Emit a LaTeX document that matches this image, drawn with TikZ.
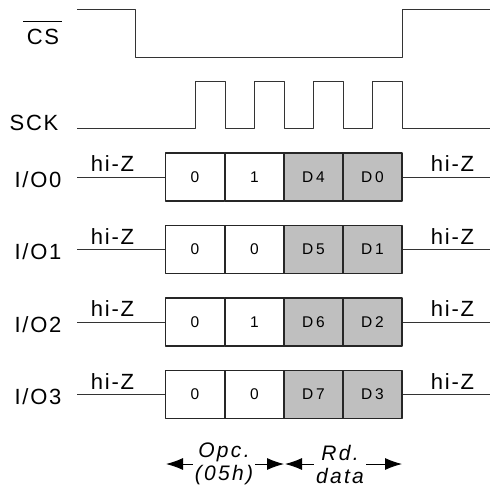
\documentclass[tikz,border=0pt]{standalone}
\usepackage{fontspec}
\setmainfont{Liberation Sans}[LetterSpace=8]
\usetikzlibrary{arrows.meta}
\tikzset{
  sig/.style = {line width=0.9pt, black!80},
  lbl/.style = {font=\fontsize{22}{22}\selectfont, inner sep=0pt, anchor=base},
  phase/.style = {font=\fontsize{21}{23}\selectfont\itshape\addfontfeatures{LetterSpace=11},
                  inner sep=0pt, align=center},
  cell/.style = {draw=black!85, line width=1.1pt, fill=white, minimum width=59pt,
                 minimum height=48pt, inner sep=0pt,
                 font=\fontsize{15.5}{15.5}\selectfont\addfontfeatures{LetterSpace=18}},
  datacell/.style = {cell, fill=black!25},
  span/.style = {line width=0.9pt, -{Latex[length=17pt,width=12pt]}},
}
\begin{document}
\begin{tikzpicture}[x=1pt, y=-1pt, line join = round]
\useasboundingbox (0,0) rectangle (492,489);

% chip select
\node [lbl] (cs) at (43,45) {CS};
\draw [line width=1pt] (23,22) -- (62,22);
\draw [sig] (77,9.5) -- (135,9.5) -- (135,57) -- (402,57) -- (402,9.5) -- (490,9.5);

% clock
\node [lbl] (sck) at (34,131) {SCK};
\draw [sig] (77,128) -- (195,128)
  \foreach \x in {195,254,313,372} { -- (\x,128) -- (\x,81) -- (\x+30,81) -- (\x+30,128) }
  -- (490,128);

% data lines
\foreach \r/\a/\b/\c/\d in {0/0/1/D4/D0, 1/0/0/D5/D1, 2/0/1/D6/D2, 3/0/0/D7/D3} {
  \pgfmathsetmacro{\yy}{177+72.5*\r}
  \node [lbl] (io\r) at (38,\yy+10) {I/O\r};
  \node [cell] (op\r a) at (195,\yy) {\a};
  \node [cell] (op\r b) at (254.5,\yy) {\b};
  \node [datacell] (rd\r a) at (313.5,\yy) {\c};
  \node [datacell] (rd\r b) at (372.5,\yy) {\d};
  \coordinate (in\r) at (77,\yy);
  \coordinate (out\r) at (490,\yy);
  \draw [sig] (in\r) -- (op\r a.west);
  \draw [sig] (rd\r b.east) -- (out\r);
  \node [lbl] (hzl\r) at (112.5,\yy-5.5) {hi-Z};
  \node [lbl] (hzr\r) at (452.5,\yy-5.5) {hi-Z};
}

% phases
\node [phase] (opc) at (224,464) {Opc.\\(05h)};
\node [phase] (rdd) at (340,464) {Rd.\\data};
\coordinate (opcl) at (166,464);
\coordinate (opcr) at (284,464);
\coordinate (rddl) at (285,464);
\coordinate (rddr) at (402,464);
\draw [span] ([xshift=-2pt]opc.west |- opcl) -- (opcl);
\draw [span] ([xshift=2pt]opc.east |- opcr) -- (opcr);
\draw [span] ([xshift=-2pt]rdd.west |- rddl) -- (rddl);
\draw [span] ([xshift=2pt]rdd.east |- rddr) -- (rddr);

\end{tikzpicture}
\end{document}
